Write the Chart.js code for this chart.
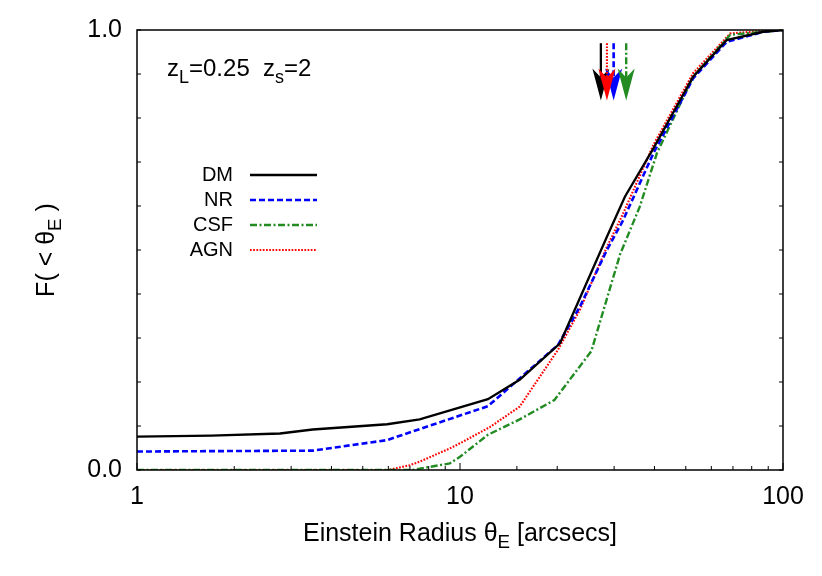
<!DOCTYPE html>
<html>
<head>
<meta charset="utf-8">
<script src="https://cdn.jsdelivr.net/npm/chart.js@4.4.1/dist/chart.umd.min.js"></script>
<style>
  body { margin: 0; background: #fff; }
  #wrap { width: 822px; height: 576px; }
</style>
</head>
<body>
<div id="wrap"><canvas id="cdf" width="822" height="576"></canvas></div>
<script>
// cumulative distribution of Einstein radii, zL=0.25 zs=2
var thetaDM = [1, 1.7, 2.77, 3.5, 5.95, 7.5, 12.2, 15.3, 20.4, 28.5, 32.4, 39.7, 52.7, 66.9, 86.9, 100];
var fracDM  = [0.076, 0.078, 0.083, 0.092, 0.104, 0.115, 0.161, 0.205, 0.288, 0.53, 0.621, 0.731, 0.894, 0.977, 0.996, 1.0];

var thetaNR = [1, 3.5, 5.95, 7.5, 12.2, 20.1, 23.5, 28.5, 32, 39.7, 52.7, 66.9, 86.9, 100];
var fracNR  = [0.042, 0.044, 0.068, 0.093, 0.145, 0.284, 0.371, 0.5, 0.568, 0.72, 0.89, 0.973, 0.996, 1.0];

var thetaCSF = [1, 7.1, 9.3, 10, 12.2, 15.3, 19.6, 25.5, 31.3, 36, 40.7, 52.7, 68.6, 86.9, 100];
var fracCSF  = [0, 0, 0.015, 0.03, 0.08, 0.115, 0.159, 0.27, 0.49, 0.598, 0.72, 0.894, 0.989, 0.996, 1.0];

var thetaAGN = [1, 6.0, 7.0, 7.5, 9.3, 10.2, 12.4, 15.3, 20.1, 23.5, 28.5, 32, 39.7, 52.7, 68.6, 86.9, 100];
var fracAGN  = [0, 0, 0.011, 0.019, 0.049, 0.064, 0.098, 0.144, 0.273, 0.364, 0.507, 0.583, 0.739, 0.902, 0.992, 0.998, 1.0];

var labels = ['DM', 'NR', 'CSF', 'AGN'];
// medians marked with arrows (DM, NR, CSF, AGN)
var medianTheta = [27.3, 29.9, 32.7, 28.5];
var arrowTop = 0.97, arrowTip = 0.84;

var xTickLabels = [1, 10, 100];
var yTickLabels = [0, 1];

var FONT = "'Liberation Sans', Arial, Helvetica, sans-serif";

var styles = [
  { color: '#000000', width: 2.3, dash: [] },
  { color: '#0000ff', width: 2.6, dash: [6, 3] },
  { color: '#228b22', width: 2.4, dash: [7, 2.5, 2, 2.5] },
  { color: '#ff0000', width: 2.1, dash: [1.7, 1.5] }
];

function pts(xs, ys) {
  return xs.map(function (x, i) { return { x: x, y: ys[i] }; });
}

var seriesData = [pts(thetaDM, fracDM), pts(thetaNR, fracNR), pts(thetaCSF, fracCSF), pts(thetaAGN, fracAGN)];

var datasets = seriesData.map(function (d, i) {
  return {
    label: labels[i],
    data: d,
    borderColor: styles[i].color,
    borderWidth: styles[i].width,
    borderDash: styles[i].dash,
    pointRadius: 0,
    fill: false,
    tension: 0
  };
});

// text with subscripts, parts: [text, isSub]
function richWidth(ctx, parts, size) {
  var w = 0;
  parts.forEach(function (p) {
    ctx.font = (p[1] ? size * 0.75 : size) + 'px ' + FONT;
    w += ctx.measureText(p[0]).width;
  });
  return w;
}
function drawRich(ctx, parts, x, y, size) {
  parts.forEach(function (p) {
    ctx.font = (p[1] ? size * 0.75 : size) + 'px ' + FONT;
    ctx.fillText(p[0], x, p[1] ? y + size * 0.28 : y);
    x += ctx.measureText(p[0]).width;
  });
}

function seg(ctx, x1, y1, x2, y2) {
  ctx.beginPath(); ctx.moveTo(x1, y1); ctx.lineTo(x2, y2); ctx.stroke();
}

var decor = {
  id: 'decor',
  afterDatasetsDraw: function (chart) {
    var ctx = chart.ctx, a = chart.chartArea;
    var xs = chart.scales.x, ys = chart.scales.y;
    ctx.save();

    // median arrows
    [0, 1, 2, 3].forEach(function (i) {
      var px = xs.getPixelForValue(medianTheta[i]);
      var yt = ys.getPixelForValue(arrowTop);
      var yp = ys.getPixelForValue(arrowTip);
      var hl = 32, hw = 8.5, notch = 9;
      ctx.strokeStyle = styles[i].color;
      ctx.fillStyle = styles[i].color;
      ctx.lineWidth = styles[i].width;
      ctx.setLineDash(styles[i].dash);
      seg(ctx, px, yt, px, yp - hl + notch);
      ctx.setLineDash([]);
      ctx.beginPath();
      ctx.moveTo(px, yp);
      ctx.lineTo(px - hw, yp - hl);
      ctx.lineTo(px, yp - hl + notch);
      ctx.lineTo(px + hw, yp - hl);
      ctx.closePath();
      ctx.fill();
    });

    // frame
    ctx.setLineDash([]);
    ctx.strokeStyle = '#000';
    ctx.lineWidth = 1.5;
    ctx.strokeRect(a.left, a.top, a.right - a.left, a.bottom - a.top);

    // inward ticks
    ctx.lineWidth = 1;
    xs.ticks.forEach(function (t) {
      var px = xs.getPixelForValue(t.value);
      var lg = Math.log10(t.value);
      var major = Math.abs(lg - Math.round(lg)) < 1e-9;
      seg(ctx, px, a.bottom, px, a.bottom - (major ? 7 : 4));
    });
    ys.ticks.forEach(function (t) {
      var py = ys.getPixelForValue(t.value);
      seg(ctx, a.left, py, a.left + 4, py);
      seg(ctx, a.right, py, a.right - 4, py);
    });

    // legend
    ctx.fillStyle = '#000';
    ctx.textBaseline = 'middle';
    ctx.font = '20px ' + FONT;
    labels.forEach(function (lab, i) {
      var y = a.top + 145 + i * 25;
      ctx.textAlign = 'right';
      ctx.fillStyle = '#000';
      ctx.fillText(lab, a.left + 96, y);
      ctx.strokeStyle = styles[i].color;
      ctx.lineWidth = styles[i].width;
      ctx.setLineDash(styles[i].dash);
      seg(ctx, a.left + 113, y, a.left + 180, y);
    });
    ctx.setLineDash([]);

    // redshift label
    ctx.textAlign = 'left';
    ctx.textBaseline = 'alphabetic';
    ctx.fillStyle = '#000';
    drawRich(ctx, [['z', false], ['L', true], ['=0.25  z', false], ['s', true], ['=2', false]], a.left + 30, a.top + 46, 24);

    // x axis title
    var xt = [['Einstein Radius \u03b8', false], ['E', true], [' [arcsecs]', false]];
    var w = richWidth(ctx, xt, 25);
    drawRich(ctx, xt, (a.left + a.right) / 2 - w / 2, a.bottom + 71, 25);

    // y axis title
    var yt = [['F( < \u03b8', false], ['E', true], [' )', false]];
    ctx.translate(54, (a.top + a.bottom) / 2);
    ctx.rotate(-Math.PI / 2);
    w = richWidth(ctx, yt, 25);
    drawRich(ctx, yt, -w / 2, 0, 25);

    ctx.restore();
  }
};

new Chart(document.getElementById('cdf'), {
  type: 'line',
  data: { datasets: datasets },
  options: {
    responsive: false,
    animation: false,
    layout: { padding: { top: 30, right: 39, left: 0, bottom: 0 } },
    plugins: { legend: { display: false }, tooltip: { enabled: false } },
    scales: {
      x: {
        type: 'logarithmic',
        min: 1, max: 100,
        grid: { display: false, drawTicks: false },
        border: { display: false },
        ticks: {
          autoSkip: false, maxRotation: 0, padding: 12,
          color: '#000', font: { family: FONT, size: 25 },
          callback: function (v) { return xTickLabels.indexOf(v) >= 0 ? String(v) : ''; }
        },
        afterFit: function (s) { s.height = 106; }
      },
      y: {
        min: 0, max: 1,
        grid: { display: false, drawTicks: false },
        border: { display: false },
        ticks: {
          stepSize: 0.1, padding: 15,
          color: '#000', font: { family: FONT, size: 25 },
          callback: function (v) {
            for (var i = 0; i < yTickLabels.length; i++) {
              if (Math.abs(v - yTickLabels[i]) < 1e-9) return yTickLabels[i].toFixed(1);
            }
            return '';
          }
        },
        afterFit: function (s) { s.width = 137; }
      }
    }
  },
  plugins: [decor]
});
</script>
</body>
</html>
